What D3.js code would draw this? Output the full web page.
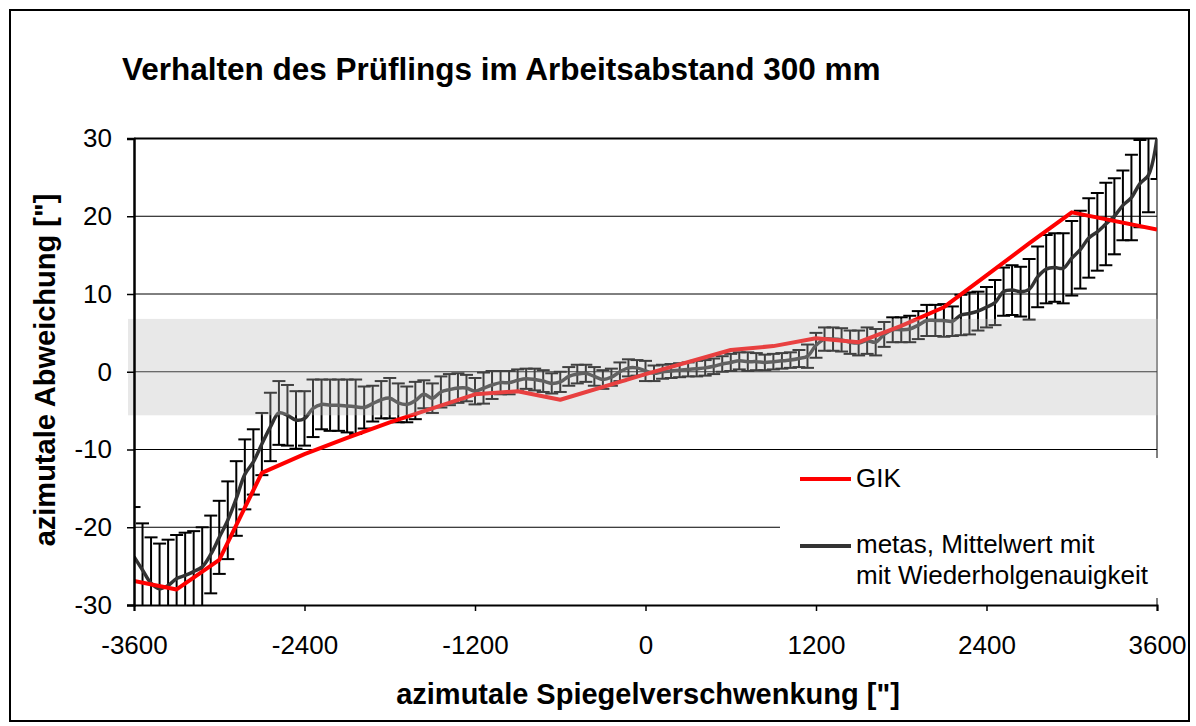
<!DOCTYPE html>
<html><head><meta charset="utf-8">
<script src="https://cdn.jsdelivr.net/npm/d3@7"></script>
<style>body{margin:0;background:#fff;} text{font-family:"Liberation Sans",Arial,sans-serif;}</style>
</head><body>
<svg id="chart" width="1196" height="726"></svg>
<script>
const xPos = [-3600,-3540,-3480,-3420,-3360,-3300,-3240,-3180,-3120,-3060,
-3000,-2940,-2880,-2820,-2760,-2700,-2640,-2580,-2520,-2460,
-2400,-2340,-2280,-2220,-2160,-2100,-2040,-1980,-1920,-1860,
-1800,-1740,-1680,-1620,-1560,-1500,-1440,-1380,-1320,-1260,
-1200,-1140,-1080,-1020,-960,-900,-840,-780,-720,-660,
-600,-540,-480,-420,-360,-300,-240,-180,-120,-60,
0,60,120,180,240,300,360,420,480,540,
600,660,720,780,840,900,960,1020,1080,1140,
1200,1260,1320,1380,1440,1500,1560,1620,1680,1740,
1800,1860,1920,1980,2040,2100,2160,2220,2280,2340,
2400,2460,2520,2580,2640,2700,2760,2820,2880,2940,
3000,3060,3120,3180,3240,3300,3360,3420,3480,3540,
3600];
const metasMean = [-23.8,-25.5,-27.2,-27.9,-27.5,-26.6,-26.2,-25.7,-25.1,-23.5,
-21.3,-19.1,-16.3,-13.2,-11.6,-9.3,-7.1,-5.3,-5.6,-6.2,
-6.0,-4.7,-4.2,-4.3,-4.3,-4.4,-4.5,-4.6,-4.1,-3.6,
-3.4,-4.0,-4.2,-3.7,-2.9,-3.4,-2.6,-2.3,-2.1,-2.1,
-2.5,-2.1,-1.7,-1.4,-1.4,-1.1,-0.9,-1.0,-1.2,-1.5,
-1.3,-0.6,-0.3,-0.2,-0.6,-1.0,-0.7,0.0,0.5,0.5,
0.1,-0.2,0.0,0.1,0.2,0.3,0.4,0.5,0.7,1.0,
1.2,1.4,1.3,1.3,1.2,1.3,1.4,1.5,1.7,2.0,
3.4,4.2,4.2,4.1,3.8,3.7,4.0,3.8,4.8,5.4,
5.4,5.5,6.0,6.6,6.6,6.6,6.5,7.3,7.5,7.8,
8.3,8.9,10.3,10.5,10.3,10.6,12.2,13.2,13.4,13.3,
14.6,15.7,17.2,18.0,19.0,20.0,21.4,22.4,24.2,25.3,
30.0];
const metasErr = [6.4,6.0,5.9,5.8,5.9,5.6,5.5,5.2,5.1,5.0,
4.7,5.0,4.8,4.5,4.2,4.0,4.4,4.1,3.9,3.7,
3.5,3.7,3.2,3.3,3.3,3.4,3.5,2.7,2.3,2.4,
2.6,2.5,2.3,2.4,1.8,1.9,2.0,2.0,1.9,1.7,
1.7,2.0,1.8,1.5,1.5,1.4,1.3,1.4,1.4,1.3,
1.3,1.2,1.2,1.1,1.2,1.2,1.1,1.2,1.1,1.0,
1.3,1.0,0.9,0.9,0.9,0.9,1.0,1.0,1.0,1.0,
1.1,1.1,1.2,1.1,1.0,1.0,1.0,1.0,1.1,1.5,
1.6,1.5,1.5,1.5,1.5,1.6,1.7,1.7,1.6,1.6,
1.6,1.7,1.8,2.0,2.0,2.1,1.9,2.6,2.7,2.5,
2.6,2.9,3.1,3.2,3.2,3.9,3.9,4.4,4.4,4.5,
4.8,5.0,5.1,5.0,5.3,4.9,4.5,5.5,5.6,4.8,
5.2];
const gikX = [-3600,-3300,-3000,-2700,-2400,-2100,-1800,-1500,-1200,-900,-600,0,600,900,1200,1500,1800,2100,2400,2700,3000,3600];
const gikY = [-26.9,-28.0,-24.2,-13.0,-10.6,-8.5,-6.5,-4.7,-2.9,-2.5,-3.6,-0.3,2.8,3.3,4.3,3.8,5.9,8.3,12.4,16.5,20.5,18.3];
const xTicks = [-3600,-2400,-1200,0,1200,2400,3600];
const yTicks = [-30,-20,-10,0,10,20,30];
const bandRange = [-5.6, 6.8];
const title = "Verhalten des Prüflings im Arbeitsabstand 300 mm";
const xTitle = 'azimutale Spiegelverschwenkung ["]';
const yTitle = 'azimutale Abweichung ["]';
const legendLabels = ["GIK", "metas, Mittelwert mit", "mit Wiederholgenauigkeit"];

const FONT = "Liberation Sans, Arial, sans-serif";
const svg = d3.select("#chart");
const L = 134, R = 1157, T = 138.5, B = 605;
const x = d3.scaleLinear().domain([-3600, 3600]).range([L, R]);
const y = d3.scaleLinear().domain([-30, 30]).range([B, T]);

// outer frame
svg.append("rect").attr("x", 10).attr("y", 10).attr("width", 1179).attr("height", 711)
  .attr("fill", "#fff").attr("stroke", "#000").attr("stroke-width", 2);

svg.append("defs").append("clipPath").attr("id", "plotclip")
  .append("rect").attr("x", L).attr("y", T).attr("width", R - L).attr("height", B - T);

// gridlines
svg.append("g").selectAll("line").data(yTicks.filter(d => d > -30 && d < 30)).join("line")
  .attr("x1", L).attr("x2", R).attr("y1", d => y(d)).attr("y2", d => y(d))
  .attr("stroke", "#000").attr("stroke-width", 1);

// plot border (top & right)
svg.append("line").attr("x1", L).attr("x2", R).attr("y1", T).attr("y2", T).attr("stroke", "#000").attr("stroke-width", 2);
svg.append("line").attr("x1", R).attr("x2", R).attr("y1", T).attr("y2", B).attr("stroke", "#000").attr("stroke-width", 1);

const plot = svg.append("g").attr("clip-path", "url(#plotclip)");

// error bars
const eb = plot.append("g").attr("stroke", "#000").attr("stroke-width", 2);
xPos.forEach((xv, i) => {
  const hi = metasMean[i] + metasErr[i], lo = metasMean[i] - metasErr[i];
  eb.append("line").attr("x1", x(xv)).attr("x2", x(xv)).attr("y1", y(hi)).attr("y2", y(lo));
  eb.append("line").attr("x1", x(xv) - 6.5).attr("x2", x(xv) + 6.5).attr("y1", y(hi)).attr("y2", y(hi));
  eb.append("line").attr("x1", x(xv) - 6.5).attr("x2", x(xv) + 6.5).attr("y1", y(lo)).attr("y2", y(lo));
});

// metas mean line
plot.append("path").datum(xPos.map((xv, i) => [xv, metasMean[i]]))
  .attr("fill", "none").attr("stroke", "#333").attr("stroke-width", 3.5)
  .attr("d", d3.line().x(d => x(d[0])).y(d => y(d[1])).curve(d3.curveCatmullRom.alpha(0.5)));

// GIK line
plot.append("path").datum(gikX.map((xv, i) => [xv, gikY[i]]))
  .attr("fill", "none").attr("stroke", "#ff0000").attr("stroke-width", 4).attr("stroke-linejoin", "round")
  .attr("d", d3.line().x(d => x(d[0])).y(d => y(d[1])));

// translucent band on top
svg.append("rect").attr("x", L - 6).attr("width", R - L + 7)
  .attr("y", y(bandRange[1])).attr("height", y(bandRange[0]) - y(bandRange[1]))
  .attr("fill", "#bcbcbc").attr("fill-opacity", 0.34);

// axes
const yAxis = svg.append("g").attr("transform", `translate(${L},0)`)
  .call(d3.axisLeft(y).tickValues(yTicks).tickSize(7).tickPadding(15).tickFormat(d => String(d)));
yAxis.select(".domain").attr("stroke-width", 2.5);
yAxis.selectAll(".tick line").attr("stroke-width", 1.5);
yAxis.selectAll("text").attr("font-size", 26).attr("fill", "#000").attr("font-family", FONT);

const xAxis = svg.append("g").attr("transform", `translate(0,${B})`)
  .call(d3.axisBottom(x).tickValues(xTicks).tickSize(6).tickFormat(d => String(d)));
xAxis.select(".domain").attr("stroke-width", 2);
xAxis.selectAll(".tick line").attr("stroke-width", 1.5);
xAxis.selectAll("text").attr("font-size", 26).attr("fill", "#000").attr("y", 40).attr("dy", "0.35em")
  .attr("font-family", FONT);

// legend
const lg = svg.append("g");
lg.append("rect").attr("x", 780).attr("y", 458).attr("width", 381).attr("height", 140).attr("fill", "#fff");
lg.append("line").attr("x1", 800).attr("x2", 851).attr("y1", 479).attr("y2", 479).attr("stroke", "#ff0000").attr("stroke-width", 4);
lg.append("line").attr("x1", 800).attr("x2", 851).attr("y1", 546).attr("y2", 546).attr("stroke", "#333").attr("stroke-width", 4);
lg.append("text").attr("x", 856).attr("y", 478).attr("dy", "0.35em").attr("font-size", 26).text(legendLabels[0]);
lg.append("text").attr("x", 856).attr("y", 544).attr("dy", "0.35em").attr("font-size", 26).text(legendLabels[1]);
lg.append("text").attr("x", 856).attr("y", 575).attr("dy", "0.35em").attr("font-size", 26).text(legendLabels[2]);

// titles
svg.append("text").attr("x", 122).attr("y", 80).attr("font-size", 31.5).attr("font-weight", "bold").text(title);
svg.append("text").attr("x", 648).attr("y", 694).attr("dy", "0.35em").attr("text-anchor", "middle")
  .attr("font-size", 29).attr("font-weight", "bold").text(xTitle);
svg.append("text").attr("transform", "translate(45,370) rotate(-90)").attr("dy", "0.35em").attr("text-anchor", "middle")
  .attr("font-size", 29).attr("font-weight", "bold").text(yTitle);
</script>
</body></html>
